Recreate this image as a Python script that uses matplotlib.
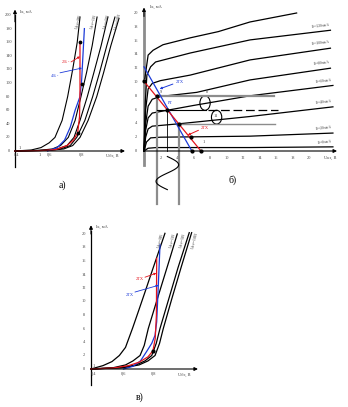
import numpy as np
import matplotlib
matplotlib.use('Agg')
import matplotlib.pyplot as plt
from matplotlib.patches import Ellipse

plt.rcParams['font.family'] = ['Liberation Serif', 'DejaVu Serif']

# ---------------- data: panel a (input characteristics) ----------------
a_yticks = [0, 20, 40, 60, 80, 100, 120, 140, 160, 180, 200]
a_xticks = [0.4, 0.6, 0.8]
a_xticklabels = ["0,4", "0,6", "0,8"]
a_curves_x = [
    [0.40, 0.50, 0.56, 0.61, 0.646, 0.69, 0.724, 0.755, 0.783, 0.80],
    [0.40, 0.55, 0.63, 0.68, 0.728, 0.77, 0.806, 0.84, 0.875, 0.905],
    [0.40, 0.58, 0.66, 0.72, 0.763, 0.80, 0.845, 0.885, 0.93, 0.972],
    [0.40, 0.60, 0.68, 0.74, 0.78, 0.83, 0.878, 0.92, 0.965, 1.015],
    [0.40, 0.61, 0.70, 0.755, 0.80, 0.85, 0.903, 0.945, 0.99, 1.04],
]
a_curves_y = [
    [0, 1.5, 5, 12, 20, 45, 80, 120, 160, 197],
    [0, 1, 3, 8, 20, 45, 80, 115, 155, 197],
    [0, 1, 3, 8, 20, 45, 80, 115, 155, 197],
    [0, 1, 3, 8, 20, 45, 80, 115, 155, 197],
    [0, 1, 3, 8, 20, 45, 80, 115, 155, 195],
]
a_curve_labels = ["Uкэ=0В", "Uкэ=1В", "Uкэ=5В", "Uкэ=10В"]
a_label_x = [0.79, 0.885, 0.965, 1.035]
a_red_x = [0.40, 0.55, 0.65, 0.72, 0.76, 0.786, 0.797, 0.80, 0.80]
a_red_y = [0, 0.5, 2, 8, 16, 27, 50, 90, 161]
a_blue_x = [0.60, 0.66, 0.705, 0.74, 0.77, 0.80, 0.81, 0.818, 0.827]
a_blue_y = [0, 5, 16, 35, 60, 80, 104, 140, 180]
a_dots_x = [0.786, 0.813, 0.80]
a_dots_y = [27, 98, 160]

# ---------------- data: panel b (output characteristics) ----------------
b_yticks = [0, 2, 4, 6, 8, 10, 12, 14, 16, 18, 20]
b_xticks = [2, 4, 6, 8, 10, 12, 14, 16, 18, 20]
b_curves_x = [
    [0.1, 0.5, 1.1, 2.3, 5.6, 9.0, 12.85, 18.5],
    [0, 0.15, 0.35, 0.8, 1.4, 5.6, 12.85, 22.6],
    [0, 0.2, 0.5, 1.0, 2.0, 5.6, 12.85, 22.6],
    [0, 0.2, 0.5, 1.0, 2.0, 6.4, 12.85, 22.6],
    [0, 0.2, 0.5, 1.0, 2.8, 6.0, 12.85, 22.9],
    [0, 0.2, 0.5, 1.0, 4.3, 12.85, 22.9],
    [0, 0.3, 0.8, 2.0, 5.7, 12.85, 22.9],
    [0, 0.5, 1.5, 12.85, 22.9],
]
b_curves_y = [
    [10.5, 13.9, 14.6, 15.4, 16.4, 17.3, 18.7, 20.0],
    [0, 7.0, 11.0, 12.2, 12.9, 14.2, 16.1, 17.5],
    [0, 6.0, 9.0, 9.8, 10.2, 11.0, 13.2, 14.9],
    [0, 4.0, 6.5, 7.5, 7.9, 8.5, 10.3, 12.0],
    [0, 3.0, 4.8, 5.5, 5.9, 6.6, 8.0, 9.5],
    [0, 2.0, 3.2, 3.6, 3.95, 5.0, 6.4],
    [0, 1.3, 1.9, 2.0, 2.05, 2.15, 2.6],
    [0, 0.4, 0.5, 0.5, 0.6],
]
b_curve_labels = ["", "Iб=120мкА", "Iб=100мкА", "Iб=80мкА", "Iб=60мкА",
                  "Iб=40мкА", "Iб=20мкА", "Iб=0мкА"]
b_blue_x = [0, 5.8]
b_blue_y = [12.2, 0]
b_red_x = [0, 6.9]
b_red_y = [10.1, 0]
b_dots_x = [0, 1.54, 2.83, 4.28, 5.7, 6.9, 5.8]
b_dots_y = [10.1, 8.0, 5.9, 3.9, 2.05, 0, 0]
b_ic_max, b_ic_q, b_ic_min = 8.0, 5.9, 3.9
b_u_min, b_u_q, b_u_max = 1.54, 2.83, 4.28

# ---------------- data: panel c ----------------
c_yticks = [0, 2, 4, 6, 8, 10, 12, 14, 16, 18, 20]
c_xticks = [0.4, 0.6, 0.8]
c_xticklabels = ["0,4", "0,6", "0,8"]
c_curves_x = [
    [0.40, 0.48, 0.54, 0.589, 0.63, 0.678, 0.72, 0.76, 0.81, 0.85, 0.893],
    [0.40, 0.55, 0.63, 0.68, 0.727, 0.755, 0.782, 0.83, 0.88, 0.93, 0.975],
    [0.40, 0.60, 0.70, 0.76, 0.805, 0.835, 0.86, 0.92, 0.98, 1.055],
    [0.40, 0.62, 0.72, 0.78, 0.827, 0.857, 0.882, 0.94, 1.00, 1.071],
]
c_curves_y = [
    [0, 0.5, 1.1, 2.0, 3.2, 6.1, 8.8, 11.4, 14.7, 17.3, 20.1],
    [0, 0.2, 0.6, 1.2, 2.0, 3.5, 6.0, 9.5, 13.1, 16.7, 20.0],
    [0, 0.2, 0.6, 1.2, 2.0, 3.8, 6.0, 10.5, 15.0, 20.2],
    [0, 0.2, 0.6, 1.2, 2.0, 3.8, 6.0, 10.5, 15.0, 20.2],
]
c_curve_labels = ["Uкэ=0В", "Uкэ=1В", "Uкэ=5В", "Uкэ=10В"]
c_label_x = [0.865, 0.945, 1.01, 1.09]
c_red_x = [0.40, 0.55, 0.65, 0.72, 0.78, 0.813, 0.828, 0.836, 0.838]
c_red_y = [0, 0.15, 0.5, 1.0, 1.8, 2.7, 4.5, 8.0, 16.4]
c_blue_x = [0.616, 0.68, 0.73, 0.771, 0.805, 0.827, 0.838, 0.848, 0.86]
c_blue_y = [0, 0.4, 1.2, 2.6, 3.8, 5.0, 7.0, 12.0, 18.4]

RED = '#e3141c'
BLUE = '#1c3ad8'
GRAY = '#8c8c8c'
TXT = '#444444'
FS = 3.2

W, H = 348, 407
fig = plt.figure(figsize=(W / 100, H / 100), dpi=100)


def panel(box, px0, v0x, sx, py0, sy):
    x0, y0, x1, y1 = box
    ax = fig.add_axes([x0 / W, 1 - y1 / H, (x1 - x0) / W, (y1 - y0) / H])
    ax.set_xlim(v0x + (x0 - px0) / sx, v0x + (x1 - px0) / sx)
    ax.set_ylim((py0 - y1) / sy, (py0 - y0) / sy)
    ax.axis('off')
    return ax


def arrow(ax, x0, y0, x1, y1, color='k', lw=0.8, ms=5):
    ax.annotate('', xy=(x1, y1), xytext=(x0, y0),
                arrowprops=dict(arrowstyle='-|>', color=color, lw=lw,
                                mutation_scale=ms, shrinkA=0, shrinkB=0),
                annotation_clip=False)


# ====================== panel a ======================
ax = panel((0, 0, 130, 200), 15, 0.4, 162.5, 151, 0.68)
ax.plot([0.4, 0.4], [-23, 200], color='k', lw=0.9)
arrow(ax, 0.4, 190, 0.4, 208)
arrow(ax, 0.4, 0, 1.077, 0)
for v in a_yticks:
    ax.text(0.36, v, str(v), fontsize=FS, color=TXT, ha='center', va='center')
for v, l in zip(a_xticks, a_xticklabels):
    ax.text(v + 0.01, -6, l, fontsize=FS, color=TXT, ha='center', va='center')
ax.text(0.55, -6, "1", fontsize=FS, color=TXT, ha='center', va='center')
ax.text(0.43, 205, "Iк, мА", fontsize=FS, color=TXT, ha='left', va='center')
ax.text(1.0, -7, "Uбэ, В", fontsize=FS, color=TXT, ha='center', va='center')
ax.text(0.43, 5, "1", fontsize=FS, color=TXT, ha='center', va='center')
for xs, ys in zip(a_curves_x, a_curves_y):
    ax.plot(xs, ys, color='k', lw=0.8)
for l, x in zip(a_curve_labels, a_label_x):
    ax.text(x, 190, l, fontsize=FS, color=TXT, rotation=76, ha='center', va='center')
ax.plot(a_blue_x, a_blue_y, color=BLUE, lw=0.9)
ax.plot(a_red_x, a_red_y, color=RED, lw=0.9)
ax.scatter(a_dots_x, a_dots_y, s=3, color='k', zorder=5)
arrow(ax, 0.745, 131, 0.80, 139, color=RED, lw=0.6, ms=3)
ax.text(0.735, 131, "2Б -", fontsize=FS, color=RED, ha='right', va='center')
arrow(ax, 0.677, 115, 0.812, 122, color=BLUE, lw=0.6, ms=3)
ax.text(0.665, 111, "4Б -", fontsize=FS, color=BLUE, ha='right', va='center')

# ====================== panel b ======================
bx = panel((130, 0, 348, 215), 144, 0.0, 8.25, 151, 6.9)
bx.plot([0, 0], [-2.1, 20.0], color=GRAY, lw=2.0)
arrow(bx, 0, 19.5, 0, 20.8)
arrow(bx, 0, 0, 23.4, 0)
for v in b_yticks:
    bx.text(-1.0, v, str(v), fontsize=FS, color=TXT, ha='center', va='center')
for v in b_xticks:
    bx.text(v, -0.95, str(v), fontsize=FS, color=TXT, ha='center', va='center')
bx.text(0.7, 20.9, "Iк, мА", fontsize=FS, color=TXT, ha='left', va='center')
bx.text(22.6, -0.95, "Uкэ, В", fontsize=FS, color=TXT, ha='center', va='center')
for xs, ys, l in zip(b_curves_x, b_curves_y, b_curve_labels):
    bx.plot(xs, ys, color='k', lw=0.9)
    if l:
        bx.text(xs[-1] - 0.1, ys[-1] + 0.25, l, fontsize=FS - 0.4, color=TXT,
                ha='right', va='bottom', rotation=7)
# projections
bx.plot([b_u_min, b_u_min], [b_ic_max, -7.7], color=GRAY, lw=1.6)
bx.plot([b_u_max, b_u_max], [b_ic_min, -7.7], color=GRAY, lw=1.6)
bx.plot([b_u_q, b_u_q], [b_ic_q, 0], color='k', lw=0.6)
bx.plot([b_u_min, 15.7], [b_ic_max, b_ic_max], color=GRAY, lw=1.6)
bx.plot([b_u_min, 7.5], [b_ic_q, b_ic_q], color='k', lw=0.8)
bx.plot([7.8, 16.2], [b_ic_q, b_ic_q], color='k', lw=0.9, dashes=(7, 3))
bx.plot([b_u_max, 15.9], [b_ic_min, b_ic_min], color=GRAY, lw=1.0)
# input sine wave (below the axis)
t = np.linspace(0, 1, 80)
amp_u = (b_u_max - b_u_min) / 2
bx.plot(b_u_q + amp_u * np.sin(2 * np.pi * t), -0.8 - 4.8 * t, color='k', lw=0.8)
# output swing loops
bx.add_patch(Ellipse((7.4, 6.95), 1.25, 2.1, fill=False, ec='k', lw=0.8))
bx.add_patch(Ellipse((8.8, 4.9), 1.25, 2.0, fill=False, ec='k', lw=0.8))
# load lines
bx.plot(b_blue_x, b_blue_y, color=BLUE, lw=0.9)
bx.plot(b_red_x, b_red_y, color=RED, lw=0.9)
bx.scatter(b_dots_x, b_dots_y, s=4, color='k', zorder=5)
bx.text(3.2, 6.9, "РТ", fontsize=FS, color=BLUE, ha='center', va='center')
bx.text(2.1, 8.6, "9", fontsize=FS, color=TXT, ha='center', va='center')
bx.text(7.6, 8.6, "8", fontsize=FS, color=TXT, ha='center', va='center')
bx.text(8.7, 5.1, "11", fontsize=FS, color=TXT, ha='center', va='center')
bx.text(7.2, 1.3, "1", fontsize=FS, color=TXT, ha='center', va='center')
arrow(bx, 3.5, 9.7, 1.9, 9.0, color=BLUE, lw=0.7, ms=3)
bx.text(3.9, 10.0, "2ТХ", fontsize=FS, color=BLUE, ha='left', va='center')
arrow(bx, 6.6, 3.0, 5.3, 2.3, color=RED, lw=0.7, ms=3)
bx.text(6.9, 3.3, "2ТХ", fontsize=FS, color=RED, ha='left', va='center')

# ====================== panel c ======================
cx = panel((70, 215, 220, 390), 91, 0.4, 150, 369, 6.75)
cx.plot([0.4, 0.4], [-2.4, 20.5], color='k', lw=0.9)
arrow(cx, 0.4, 20, 0.4, 21.3)
arrow(cx, 0.4, 0, 1.113, 0)
for v in c_yticks:
    cx.text(0.355, v, str(v), fontsize=FS, color=TXT, ha='center', va='center')
for v, l in zip(c_xticks, c_xticklabels):
    cx.text(v + 0.02, -0.75, l, fontsize=FS, color=TXT, ha='center', va='center')
cx.text(0.43, 21.0, "Iк, мА", fontsize=FS, color=TXT, ha='left', va='center')
cx.text(1.02, -0.9, "Uбэ, В", fontsize=FS, color=TXT, ha='center', va='center')
cx.text(0.42, 0.5, "1", fontsize=FS, color=TXT, ha='center', va='center')
for xs, ys in zip(c_curves_x, c_curves_y):
    cx.plot(xs, ys, color='k', lw=0.9)
for l, x in zip(c_curve_labels, c_label_x):
    cx.text(x, 19.0, l, fontsize=FS, color=TXT, rotation=76, ha='center', va='center')
cx.plot(c_blue_x, c_blue_y, color=BLUE, lw=0.9)
cx.plot(c_red_x, c_red_y, color=RED, lw=0.9)
cx.scatter([0.815], [2.7], s=4, color='k', zorder=5)
arrow(cx, 0.76, 13.6, 0.836, 14.2, color=RED, lw=0.6, ms=3)
cx.text(0.75, 13.3, "2ТХ", fontsize=FS, color=RED, ha='right', va='center')
arrow(cx, 0.693, 11.4, 0.85, 12.4, color=BLUE, lw=0.6, ms=3)
cx.text(0.685, 11.0, "2ТХ", fontsize=FS, color=BLUE, ha='right', va='center')

# panel captions
fig.text(62 / W, 1 - 185 / H, "а)", fontsize=7, ha='center', va='center')
fig.text(233 / W, 1 - 180 / H, "б)", fontsize=7, ha='center', va='center')
fig.text(140 / W, 1 - 397 / H, "в)", fontsize=7, ha='center', va='center')

fig.savefig('out.png', dpi=100)
